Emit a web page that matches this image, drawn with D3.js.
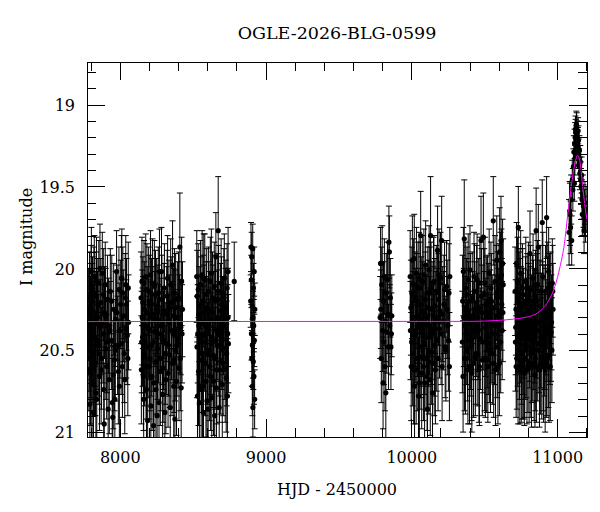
<!DOCTYPE html>
<html><head><meta charset="utf-8">
<script src="https://cdn.jsdelivr.net/npm/d3@7"></script>
<style>
body{margin:0;background:#fff}
text{font-family:"DejaVu Serif",serif;fill:#000}
</style>
</head><body><svg id="chart" width="600" height="512"></svg>
<script>
const title = "OGLE-2026-BLG-0599";
const xLabel = "HJD - 2450000";
const yLabel = "I magnitude";
const xMajorTicks = [8000, 9000, 10000, 11000];
const yMajorTicks = [19, 19.5, 20, 20.5, 21];

// [HJD-2450000, I mag, error]
const season1 = [[7786,20.28,0.28],[7788,20.55,0.32],[7790,20.45,0.30],[7792,20.18,0.28],[7794,20.24,0.27],[7795,20.83,0.36],[7797,20.62,0.33],[7799,20.35,0.30],[7800,20.64,0.32],[7802,20.48,0.31],[7803,20.12,0.26],[7805,20.02,0.27],[7806,20.38,0.30],[7808,20.70,0.34],[7810,20.51,0.31],[7811,20.26,0.29],[7813,20.20,0.27],[7815,20.40,0.30],[7817,20.71,0.34],[7819,20.88,0.37],[7821,20.33,0.29],[7823,20.15,0.28],[7825,20.05,0.25],[7827,20.58,0.32],[7829,20.42,0.30],[7831,20.31,0.29],[7833,20.58,0.32],[7836,20.76,0.35],[7838,20.17,0.27],[7840,20.08,0.27],[7842,20.80,0.35],[7844,20.44,0.30],[7847,20.30,0.28],[7850,20.22,0.28],[7852,20.47,0.31],[7856,20.09,0.26],[7858,20.52,0.31],[7861,20.66,0.33],[7864,20.00,0.27],[7866,20.36,0.29],[7870,20.21,0.27],[7872,20.62,0.33],[7875,20.55,0.31],[7878,20.34,0.30],[7880,20.03,0.25],[7885,20.40,0.30],[7887,20.16,0.28],[7890,20.74,0.34],[7893,20.95,0.37],[7895,20.27,0.28],[7900,20.10,0.26],[7903,20.29,0.29],[7905,20.49,0.31],[7910,20.60,0.32],[7913,20.45,0.31],[7916,20.19,0.27],[7920,20.86,0.36],[7922,20.35,0.29],[7928,20.68,0.33],[7932,20.38,0.30],[7935,20.14,0.26],[7942,20.44,0.30],[7945,20.20,0.28],[7948,20.82,0.35],[7952,20.91,0.36],[7955,20.65,0.33],[7958,20.25,0.28],[7963,20.56,0.31],[7966,20.80,0.34],[7969,20.50,0.31],[7972,20.31,0.29],[7978,20.02,0.25],[7981,20.27,0.29],[7985,20.47,0.30],[7990,20.63,0.32],[7994,20.13,0.26],[7997,20.72,0.34],[8000,20.38,0.29],[8006,20.22,0.27],[8009,20.46,0.31],[8011,20.06,0.26],[8014,20.06,0.30],[8018,20.60,0.31],[8021,20.15,0.28],[8024,20.29,0.28],[8030,20.52,0.30],[8034,20.68,0.33],[8037,20.18,0.27],[8041,20.10,0.30],[8044,20.37,0.30],[8046,20.22,0.28],[8051,20.41,0.30],[8055,20.55,0.35],[8058,20.12,0.28],[8060,20.33,0.29]];
const season2 = [[8146,20.18,0.28],[8148,20.62,0.33],[8150,20.45,0.31],[8152,20.08,0.27],[8154,20.30,0.29],[8156,20.42,0.30],[8158,20.21,0.28],[8160,20.35,0.30],[8162,20.66,0.33],[8164,20.80,0.36],[8166,20.09,0.26],[8168,20.25,0.29],[8170,20.53,0.31],[8173,20.45,0.31],[8175,20.35,0.29],[8178,20.05,0.26],[8180,20.60,0.32],[8183,20.74,0.34],[8186,20.13,0.28],[8188,20.27,0.28],[8191,20.93,0.38],[8193,20.48,0.31],[8196,20.37,0.30],[8198,20.14,0.27],[8201,20.20,0.28],[8203,20.60,0.32],[8206,20.55,0.32],[8208,20.38,0.30],[8211,20.04,0.27],[8213,20.84,0.36],[8216,20.47,0.31],[8218,20.22,0.28],[8221,20.66,0.33],[8224,20.09,0.27],[8227,20.28,0.29],[8229,20.45,0.30],[8232,20.96,0.38],[8234,20.70,0.34],[8237,20.11,0.28],[8240,20.31,0.29],[8243,20.39,0.30],[8245,20.16,0.27],[8248,20.74,0.35],[8250,20.57,0.32],[8253,20.23,0.29],[8256,20.90,0.37],[8259,20.49,0.31],[8261,20.26,0.28],[8264,20.15,0.28],[8266,20.40,0.30],[8269,20.82,0.36],[8272,20.02,0.26],[8275,20.32,0.30],[8278,20.63,0.33],[8281,20.55,0.32],[8283,20.35,0.29],[8286,20.02,0.27],[8289,20.19,0.27],[8292,20.41,0.30],[8294,20.77,0.35],[8297,20.61,0.33],[8300,20.44,0.30],[8303,20.26,0.29],[8306,20.12,0.27],[8309,20.88,0.37],[8312,20.52,0.31],[8316,20.68,0.33],[8319,20.46,0.31],[8322,20.28,0.29],[8325,20.17,0.28],[8328,20.06,0.26],[8331,20.64,0.33],[8334,20.47,0.31],[8337,20.24,0.29],[8340,20.33,0.29],[8343,20.53,0.32],[8346,20.85,0.36],[8349,20.10,0.28],[8352,20.21,0.28],[8355,20.38,0.30],[8358,20.58,0.32],[8362,19.98,0.27],[8366,20.40,0.30],[8368,20.29,0.29],[8370,20.72,0.34],[8373,20.56,0.32],[8375,20.15,0.27],[8378,20.92,0.38],[8380,20.50,0.31],[8383,20.19,0.28],[8385,20.30,0.29],[8389,20.69,0.33],[8392,20.47,0.31],[8395,20.24,0.28],[8400,20.43,0.30],[8403,20.18,0.28],[8406,20.61,0.32],[8409,20.34,0.30],[8412,19.87,0.33],[8415,20.55,0.32],[8418,20.36,0.29],[8421,20.73,0.35],[8424,20.08,0.27],[8427,20.40,0.30],[8430,20.25,0.29]];
const season3 = [[8528,20.05,0.28],[8530,20.48,0.31],[8531,20.17,0.28],[8533,20.78,0.36],[8535,20.40,0.30],[8538,20.13,0.28],[8540,20.63,0.33],[8542,20.35,0.30],[8544,20.28,0.29],[8546,20.82,0.36],[8548,20.52,0.31],[8551,20.44,0.31],[8553,20.10,0.27],[8556,20.22,0.29],[8558,20.74,0.34],[8561,20.56,0.32],[8563,20.33,0.29],[8565,20.04,0.27],[8567,20.72,0.33],[8570,20.41,0.30],[8572,20.20,0.28],[8574,20.88,0.37],[8576,20.06,0.27],[8578,20.27,0.29],[8580,20.45,0.30],[8583,20.07,0.28],[8586,20.35,0.30],[8588,20.58,0.32],[8591,20.69,0.34],[8593,20.24,0.28],[8596,20.16,0.28],[8598,20.81,0.35],[8601,20.52,0.31],[8603,20.36,0.30],[8606,20.86,0.37],[8608,20.14,0.27],[8611,20.25,0.29],[8613,20.50,0.31],[8616,20.60,0.33],[8618,20.31,0.29],[8621,20.08,0.27],[8623,20.66,0.33],[8626,20.46,0.31],[8628,20.03,0.27],[8631,20.79,0.35],[8633,20.42,0.30],[8636,20.18,0.28],[8638,20.27,0.29],[8641,20.53,0.32],[8643,20.69,0.33],[8646,20.32,0.30],[8648,20.11,0.27],[8651,20.90,0.37],[8653,20.55,0.31],[8656,20.20,0.28],[8659,19.93,0.27],[8661,20.44,0.31],[8663,20.73,0.34],[8666,20.62,0.33],[8668,20.38,0.30],[8670,20.30,0.29],[8672,20.19,0.28],[8675,19.77,0.33],[8678,20.14,0.28],[8680,20.47,0.31],[8682,20.85,0.36],[8684,20.62,0.32],[8687,20.39,0.30],[8690,20.26,0.29],[8692,20.57,0.32],[8695,20.09,0.27],[8698,20.22,0.29],[8700,20.44,0.30],[8703,20.71,0.34],[8705,20.34,0.29],[8709,20.58,0.32],[8711,20.35,0.30],[8714,20.16,0.28],[8717,20.06,0.27],[8720,20.49,0.31],[8723,20.61,0.33],[8725,20.29,0.29],[8728,20.24,0.29],[8730,20.67,0.33],[8733,20.52,0.32],[8736,20.12,0.27],[8738,20.78,0.35],[8740,20.40,0.30],[8742,20.30,0.30],[8743,20.02,0.27],[8745,20.46,0.30],[8785,20.08,0.24]];
const season4 = [[8898,20.20,0.16],[8900,19.87,0.15],[8902,20.07,0.15],[8903,20.40,0.16],[8905,19.93,0.15],[8906,20.55,0.17],[8908,20.23,0.16],[8909,20.72,0.18],[8910,20.47,0.16],[8912,19.88,0.15],[8913,20.85,0.18],[8914,20.30,0.16],[8916,20.57,0.17],[8917,20.12,0.15],[8919,20.35,0.16],[8920,20.66,0.17],[8922,20.02,0.15],[8923,20.44,0.16],[8925,20.80,0.18],[8926,20.25,0.16]];
const season5 = [[9786,20.30,0.25],[9789,19.97,0.22],[9791,20.25,0.24],[9794,20.55,0.27],[9797,20.10,0.23],[9800,19.97,0.23],[9803,20.38,0.25],[9806,20.70,0.28],[9809,20.20,0.24],[9812,20.45,0.26],[9815,20.05,0.23],[9819,20.60,0.27],[9822,20.32,0.25],[9825,20.76,0.29],[9828,20.15,0.24],[9832,20.39,0.25],[9836,20.07,0.23],[9840,20.28,0.24],[9843,20.48,0.26],[9846,19.84,0.22],[9849,19.90,0.22],[9852,20.35,0.25],[9856,20.18,0.24],[9860,20.48,0.26],[9863,20.40,0.25],[9866,20.29,0.25]];
const season6 = [[9992,20.05,0.28],[9994,20.38,0.30],[9997,20.24,0.29],[9999,20.60,0.33],[10002,20.45,0.31],[10004,20.15,0.28],[10007,19.95,0.27],[10009,20.52,0.32],[10012,20.31,0.29],[10014,20.10,0.28],[10016,20.62,0.33],[10018,20.40,0.31],[10020,19.94,0.27],[10022,20.72,0.35],[10025,20.18,0.28],[10027,20.30,0.30],[10030,20.40,0.30],[10033,20.62,0.33],[10035,20.03,0.28],[10038,20.20,0.29],[10040,20.55,0.32],[10043,20.36,0.30],[10046,20.12,0.28],[10049,20.78,0.36],[10051,20.29,0.29],[10053,20.06,0.28],[10055,20.70,0.34],[10057,20.33,0.30],[10059,20.54,0.32],[10062,20.12,0.28],[10064,19.80,0.27],[10066,20.48,0.31],[10068,20.22,0.29],[10071,20.64,0.34],[10073,20.36,0.30],[10076,20.26,0.30],[10078,20.08,0.28],[10081,20.41,0.31],[10083,20.60,0.33],[10086,20.04,0.28],[10088,20.27,0.29],[10091,20.70,0.35],[10093,20.46,0.31],[10096,20.19,0.29],[10098,19.98,0.27],[10101,20.55,0.32],[10103,20.34,0.30],[10106,20.30,0.30],[10108,20.66,0.33],[10111,20.86,0.37],[10113,20.15,0.28],[10116,20.24,0.29],[10118,20.42,0.30],[10120,20.57,0.32],[10122,20.01,0.27],[10125,20.35,0.30],[10127,20.15,0.28],[10130,20.68,0.34],[10132,19.80,0.36],[10135,20.12,0.28],[10137,20.51,0.32],[10140,20.40,0.31],[10142,20.25,0.29],[10145,20.76,0.36],[10147,20.38,0.30],[10150,20.29,0.30],[10152,20.09,0.28],[10155,20.08,0.28],[10157,20.58,0.32],[10160,20.47,0.31],[10162,20.23,0.29],[10165,20.62,0.33],[10168,20.32,0.30],[10171,20.14,0.28],[10174,20.44,0.31],[10177,20.30,0.30],[10180,19.89,0.27],[10183,20.55,0.32],[10186,20.19,0.28],[10190,20.04,0.28],[10193,20.37,0.30],[10196,20.26,0.30],[10200,20.06,0.28],[10204,20.40,0.31],[10208,19.83,0.27],[10211,20.60,0.33],[10215,20.28,0.29],[10219,20.32,0.30],[10224,20.22,0.30],[10228,20.13,0.29],[10232,20.48,0.31],[10237,20.50,0.31],[10242,20.11,0.28],[10246,20.25,0.30],[10250,20.35,0.30],[10254,20.44,0.31],[10258,20.15,0.30],[10261,20.60,0.33],[10264,20.05,0.30]];
const season7 = [[10350,20.45,0.31],[10352,20.20,0.28],[10355,20.66,0.34],[10357,20.02,0.27],[10360,20.30,0.30],[10363,19.82,0.36],[10365,20.55,0.32],[10368,20.35,0.30],[10371,20.55,0.34],[10373,20.12,0.28],[10377,20.40,0.31],[10380,20.23,0.29],[10382,20.16,0.29],[10385,20.50,0.31],[10388,20.62,0.33],[10390,20.07,0.28],[10393,20.26,0.30],[10396,20.30,0.29],[10399,20.60,0.35],[10402,20.01,0.27],[10405,20.20,0.29],[10407,20.44,0.30],[10410,20.47,0.31],[10413,20.61,0.32],[10415,20.64,0.36],[10418,20.18,0.28],[10421,20.32,0.30],[10424,20.38,0.30],[10427,20.58,0.33],[10430,20.05,0.27],[10433,20.14,0.29],[10436,20.25,0.29],[10439,20.55,0.35],[10442,20.52,0.31],[10445,20.36,0.30],[10448,20.14,0.28],[10451,20.07,0.28],[10454,20.33,0.30],[10456,20.52,0.32],[10459,20.38,0.30],[10462,20.24,0.30],[10464,20.62,0.32],[10467,20.60,0.36],[10470,20.09,0.28],[10473,20.43,0.31],[10478,19.83,0.27],[10481,20.17,0.29],[10484,20.27,0.29],[10487,20.56,0.34],[10490,20.45,0.31],[10494,19.81,0.27],[10497,20.32,0.30],[10500,20.16,0.28],[10503,20.55,0.32],[10505,20.09,0.28],[10508,20.55,0.36],[10511,20.36,0.30],[10514,20.22,0.29],[10517,20.56,0.32],[10520,20.42,0.31],[10522,20.21,0.29],[10525,20.60,0.34],[10528,20.46,0.31],[10531,20.27,0.30],[10534,20.03,0.27],[10537,20.50,0.32],[10540,20.30,0.29],[10543,20.52,0.36],[10546,20.12,0.28],[10549,20.20,0.29],[10552,20.40,0.30],[10555,20.34,0.30],[10558,20.52,0.31],[10562,19.71,0.27],[10565,20.58,0.33],[10568,20.24,0.29],[10571,20.40,0.31],[10574,20.08,0.28],[10577,20.62,0.34],[10580,20.33,0.29],[10583,20.15,0.29],[10586,19.95,0.27],[10589,20.48,0.31],[10591,20.18,0.28],[10594,20.60,0.35],[10596,20.29,0.29],[10599,20.35,0.30],[10601,20.13,0.28],[10604,20.58,0.32],[10606,19.90,0.27],[10609,20.26,0.30],[10611,20.06,0.28],[10613,20.45,0.31],[10615,19.83,0.27],[10618,20.04,0.28],[10620,20.22,0.28],[10623,20.38,0.30],[10626,19.97,0.27],[10628,20.27,0.30],[10630,20.10,0.28]];
const season8 = [[10712,20.14,0.27],[10714,20.45,0.30],[10716,20.36,0.29],[10718,20.25,0.28],[10719,20.60,0.31],[10722,19.97,0.25],[10724,20.55,0.31],[10726,20.27,0.28],[10728,20.08,0.27],[10730,20.42,0.30],[10732,20.62,0.33],[10734,19.75,0.25],[10736,20.35,0.29],[10738,20.15,0.27],[10740,20.18,0.28],[10742,20.50,0.30],[10744,20.60,0.35],[10746,20.22,0.28],[10748,20.40,0.30],[10750,20.03,0.26],[10752,20.28,0.29],[10754,20.63,0.31],[10756,20.52,0.31],[10758,20.31,0.28],[10760,20.58,0.34],[10762,20.12,0.27],[10764,20.16,0.28],[10766,20.47,0.30],[10768,20.60,0.32],[10770,20.28,0.28],[10773,20.37,0.30],[10775,20.64,0.32],[10778,20.55,0.36],[10780,20.50,0.30],[10783,20.22,0.29],[10785,20.08,0.27],[10788,20.48,0.31],[10790,20.35,0.29],[10793,20.62,0.33],[10795,20.19,0.28],[10798,20.30,0.29],[10800,20.57,0.31],[10803,20.12,0.28],[10805,20.25,0.28],[10808,20.60,0.34],[10810,20.40,0.29],[10812,20.43,0.30],[10814,19.91,0.26],[10816,20.28,0.29],[10818,20.13,0.27],[10820,20.58,0.33],[10822,20.33,0.29],[10824,20.60,0.37],[10826,20.52,0.30],[10828,20.36,0.30],[10830,20.20,0.28],[10833,20.50,0.31],[10835,20.06,0.27],[10838,20.24,0.29],[10840,20.44,0.30],[10842,20.58,0.35],[10844,20.29,0.29],[10846,20.40,0.30],[10848,20.65,0.32],[10850,20.55,0.32],[10852,20.17,0.28],[10854,20.31,0.30],[10856,19.77,0.26],[10858,20.60,0.34],[10860,20.38,0.29],[10862,20.20,0.29],[10865,20.10,0.27],[10867,20.50,0.31],[10871,19.87,0.26],[10874,20.33,0.30],[10876,20.46,0.30],[10879,20.62,0.35],[10882,20.23,0.28],[10884,20.14,0.28],[10887,20.58,0.31],[10889,20.42,0.31],[10892,20.32,0.29],[10895,20.55,0.37],[10898,19.72,0.26],[10900,20.26,0.30],[10902,20.05,0.27],[10905,20.56,0.31],[10907,20.60,0.34],[10910,20.27,0.29],[10912,20.47,0.31],[10915,20.44,0.30],[10918,20.62,0.38],[10920,20.14,0.28],[10922,20.30,0.30],[10924,20.36,0.29],[10926,20.58,0.33],[10928,19.69,0.25],[10930,20.55,0.35],[10933,20.21,0.28],[10936,20.12,0.28],[10938,20.39,0.30],[10940,20.53,0.32],[10942,20.02,0.27],[10944,20.60,0.34],[10946,20.27,0.29],[10948,20.20,0.29],[10951,20.41,0.30],[10953,20.60,0.33],[10956,20.18,0.28],[10958,20.39,0.30],[10961,20.33,0.29],[10964,20.50,0.32],[10967,20.09,0.27],[10970,20.14,0.28],[10972,20.25,0.28]];
const season9 = [[11082,19.78,0.20],[11086,19.65,0.18],[11088,19.67,0.19],[11092,19.75,0.16],[11096,19.58,0.15],[11100,19.83,0.15],[11104,19.46,0.12],[11108,19.52,0.13],[11112,19.38,0.11],[11115,19.29,0.10],[11118,19.48,0.11],[11120,19.24,0.09],[11122,19.33,0.10],[11124,19.20,0.09],[11126,19.15,0.08],[11127,19.17,0.08],[11129,19.29,0.09],[11130,19.21,0.08],[11132,19.12,0.08],[11134,19.13,0.08],[11136,19.25,0.09],[11138,19.18,0.08],[11140,19.30,0.09],[11142,19.22,0.08],[11144,19.16,0.08],[11146,19.22,0.09],[11148,19.30,0.09],[11150,19.37,0.10],[11153,19.28,0.09],[11156,19.42,0.10],[11159,19.35,0.10],[11162,19.46,0.11],[11164,19.50,0.11],[11168,19.43,0.11],[11171,19.58,0.12],[11173,19.67,0.13],[11177,19.55,0.12],[11181,19.62,0.13],[11185,19.77,0.14],[11188,19.66,0.14],[11191,19.60,0.13],[11195,19.70,0.14],[11199,19.64,0.14]];

// model curve [HJD-2450000, I mag]
const model = [[7775,20.325],[10400,20.324],[10600,20.318],[10700,20.31],[10780,20.30],[10870,20.27],[10940,20.20],[10985,20.11],[11020,19.99],[11050,19.85],[11072,19.68],[11100,19.48],[11122,19.36],[11141,19.31],[11157,19.35],[11173,19.48],[11191,19.62],[11205,19.71]];

const data = [].concat(season1, season2, season3, season4, season5, season6, season7, season8, season9);

const L = 87, R = 587, T = 62, B = 437;
const x = d3.scaleLinear().domain([7775, 11205]).range([L, R]);
const y = d3.scaleLinear().domain([18.74, 21.03]).range([T, B]);

const svg = d3.select("#chart");

svg.append("defs").append("clipPath").attr("id","clip")
  .append("rect").attr("x",L).attr("y",T).attr("width",R-L).attr("height",B-T);

const plot = svg.append("g").attr("clip-path","url(#clip)");

// error bars
const eb = plot.append("g").attr("stroke","#000").attr("stroke-width",1).attr("fill","none");
eb.selectAll("path").data(data).join("path")
  .attr("d", d => {
    const cx = x(d[0]), y1 = y(d[1]-d[2]), y2 = y(d[1]+d[2]), c = 3;
    return `M${cx},${y1}V${y2}M${cx-c},${y1}H${cx+c}M${cx-c},${y2}H${cx+c}`;
  });

// points
plot.append("g").selectAll("circle").data(data).join("circle")
  .attr("cx", d => x(d[0])).attr("cy", d => y(d[1])).attr("r", 2.6).attr("fill","#000");

// model
plot.append("path").datum(model)
  .attr("fill","none").attr("stroke","#ff00ff").attr("stroke-width",1)
  .attr("d", d3.line().x(d => x(d[0])).y(d => y(d[1])).curve(d3.curveMonotoneX));

// axes
const xMinor = d3.range(7800, 11201, 200).filter(v => v % 1000 !== 0);
const yMinor = d3.range(188, 211).map(v => v/10).filter(v => Math.abs(v*2 - Math.round(v*2)) > 1e-6);

function styleAxis(g){ g.select(".domain").remove(); g.selectAll("line").attr("stroke","#000").attr("shape-rendering","crispEdges"); }

svg.append("g").attr("transform",`translate(0,${B})`)
  .call(d3.axisBottom(x).tickValues(xMinor).tickSize(-9).tickFormat("")).call(styleAxis);
const xb = svg.append("g").attr("transform",`translate(0,${B})`)
  .call(d3.axisBottom(x).tickValues(xMajorTicks).tickSize(-18).tickFormat(d3.format("d"))).call(styleAxis);
xb.selectAll("text").attr("y", 26).attr("dy", 0).attr("font-size", 16).attr("font-family","DejaVu Serif");

svg.append("g").attr("transform",`translate(0,${T})`)
  .call(d3.axisTop(x).tickValues(xMinor).tickSize(-9).tickFormat("")).call(styleAxis);
svg.append("g").attr("transform",`translate(0,${T})`)
  .call(d3.axisTop(x).tickValues(xMajorTicks).tickSize(-18).tickFormat("")).call(styleAxis);

svg.append("g").attr("transform",`translate(${L},0)`)
  .call(d3.axisLeft(y).tickValues(yMinor).tickSize(-9).tickFormat("")).call(styleAxis);
const yl = svg.append("g").attr("transform",`translate(${L},0)`)
  .call(d3.axisLeft(y).tickValues(yMajorTicks).tickSize(-18).tickFormat(d3.format("~g"))).call(styleAxis);
yl.selectAll("text").attr("x", -12).attr("dy", "0.36em").attr("font-size", 16).attr("font-family","DejaVu Serif");

svg.append("g").attr("transform",`translate(${R},0)`)
  .call(d3.axisRight(y).tickValues(yMinor).tickSize(-9).tickFormat("")).call(styleAxis);
svg.append("g").attr("transform",`translate(${R},0)`)
  .call(d3.axisRight(y).tickValues(yMajorTicks).tickSize(-18).tickFormat("")).call(styleAxis);

// frame
svg.append("rect").attr("x",L).attr("y",T).attr("width",R-L).attr("height",B-T)
  .attr("fill","none").attr("stroke","#000").attr("stroke-width",1).attr("shape-rendering","crispEdges");

// labels
svg.append("text").attr("x",(L+R)/2).attr("y",39).attr("text-anchor","middle")
  .attr("font-size",17.5).text(title);
svg.append("text").attr("x",(L+R)/2).attr("y",495).attr("text-anchor","middle")
  .attr("font-size",16).text(xLabel);
svg.append("text").attr("transform","translate(32,237) rotate(-90)").attr("text-anchor","middle")
  .attr("font-size",16).text(yLabel);
</script>
</body></html>
